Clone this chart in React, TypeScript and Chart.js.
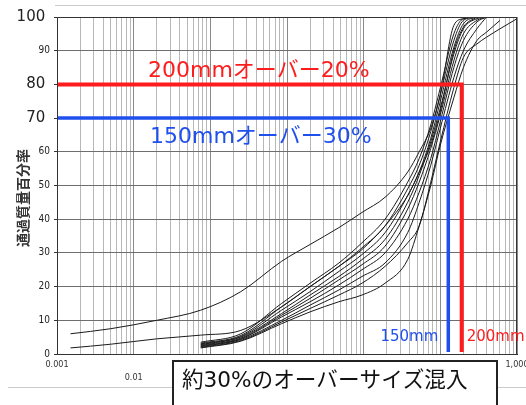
import React, { useEffect, useRef } from 'react';
import { Chart, registerables } from 'chart.js';

Chart.register(...registerables);

// ---- data ----
const SIZES_MM = [0.0015, 0.005, 0.02, 0.075, 0.25, 0.85, 2, 4.75, 9.5, 19, 37.5, 53, 75, 100, 150, 200, 300, 400, 600, 1000];

const CURVE_A = [6, 7.5, 10, 13, 18.5, 27.5, 32.5, 37.5, 42, 46.5, 54, 60, 67, 77, 97.5, 99.5, 100, null, null, null];
const CURVE_B = [1.8, 2.9, 4.5, 5.6, 7, 14, 20, 26, 31, 38, 47, 54, 62, 72, 90, 97, 100, null, null, null];
const CURVE_C1 = [null, null, null, 3.5, 6, 15, 21, 27, 33, 40, 51, 58, 68, 79, 95, 99.5, 100, null, null, null];
const CURVE_C2 = [null, null, null, 3.2, 5.5, 14, 20, 26, 31.5, 38, 49, 56, 66, 77, 93, 99, 100, null, null, null];
const CURVE_C3 = [null, null, null, 3.0, 5.2, 13, 18.5, 24.5, 29.5, 36, 47, 54, 64, 75, 91, 98, 100, null, null, null];
const CURVE_C4 = [null, null, null, 2.8, 5.0, 12, 17.5, 23, 28, 34, 45, 53, 63, 73, 89, 96.5, 99.5, 100, null, null];
const CURVE_C5 = [null, null, null, 2.6, 4.7, 11.5, 16.5, 22, 26.5, 32, 43, 51, 61, 71, 87, 95, 99, 100, null, null];
const CURVE_C6 = [null, null, null, 2.4, 4.5, 11, 15.5, 20.5, 25, 30, 40, 48, 58, 69, 85, 93, 98.5, 100, null, null];
const CURVE_C7 = [null, null, null, 2.2, 4.3, 10, 14.5, 19, 23, 27, 36, 45, 56, 67, 82, 90, 96.5, 100, null, null];
const CURVE_C8 = [null, null, null, 2.0, 4.0, 9.5, 13.5, 17.5, 21, 26, 33, 38, 51, 63, 79, 88, 92, 94, 96.5, 99.5];
const CURVE_C9 = [null, null, null, 1.8, 3.8, 9, 12.5, 15.5, 17.5, 21, 28, 38, 50, 62, 76, 85, 93, 95.5, 99, null];

const CURVES = [CURVE_A, CURVE_B, CURVE_C1, CURVE_C2, CURVE_C3, CURVE_C4, CURVE_C5, CURVE_C6, CURVE_C7, CURVE_C8, CURVE_C9];

const RED_SIZE_MM = 190;
const RED_PCT = 80;
const BLUE_SIZE_MM = 127;
const BLUE_PCT = 70;

const Y_TICKS = [0, 10, 20, 30, 40, 50, 60, 70, 80, 90, 100];
const Y_BIG_TICKS = [100, 80, 70];
const X_LABEL_VALUES = [0.001, 0.01, 0.1, 1, 10, 100, 1000];
const X_LABEL_TEXTS = ['0.001', '0.01', '0.1', '1', '10', '100', '1,000'];

const Y_TITLE = '通過質量百分率';
const RED_TEXT = '200mmオーバー20%';
const BLUE_TEXT = '150mmオーバー30%';
const RED_SHORT = '200mm';
const BLUE_SHORT = '150mm';
const BOX_TEXT = '約30%のオーバーサイズ混入';

const RED = '#ff1c1c';
const BLUE = '#1f50ee';
const CJK = "'Noto Sans CJK JP'";
const ROUND = "'DejaVu Sans', 'Noto Sans CJK JP', sans-serif";
const NARROW = "'Liberation Sans Narrow', 'DejaVu Sans Condensed', 'Liberation Sans', sans-serif";

function buildXTicks() {
  const ticks: { value: number }[] = [];
  for (let e = -3; e <= 2; e++) {
    for (let k = 1; k <= 9; k++) ticks.push({ value: +(k * Math.pow(10, e)).toPrecision(6) });
  }
  ticks.push({ value: 1000 });
  return ticks;
}

function isDecade(v: number) {
  const l = Math.log10(v);
  return Math.abs(l - Math.round(l)) < 1e-6;
}

const overlayPlugin = {
  id: 'overlay',
  beforeDraw(chart: any) {
    const { ctx, width, height } = chart;
    ctx.save();
    ctx.fillStyle = '#ffffff';
    ctx.fillRect(0, 0, width, height);
    ctx.strokeStyle = '#cccccc';
    ctx.lineWidth = 1;
    ctx.beginPath();
    ctx.moveTo(55, 5.5);
    ctx.lineTo(width, 5.5);
    ctx.moveTo(8, 387.5);
    ctx.lineTo(width, 387.5);
    ctx.stroke();
    ctx.restore();
  },
  afterDatasetsDraw(chart: any) {
    const { ctx, chartArea } = chart;
    const xs = chart.scales.x;
    const ys = chart.scales.y;
    ctx.save();
    // frame
    ctx.strokeStyle = '#333';
    ctx.lineWidth = 1;
    ctx.strokeRect(chartArea.left + 0.5, chartArea.top + 0.5, chartArea.right - chartArea.left - 1, chartArea.bottom - chartArea.top);
    // annotation texts
    ctx.textBaseline = 'middle';
    ctx.textAlign = 'left';
    ctx.font = `22px ${ROUND}`;
    ctx.fillStyle = RED;
    ctx.fillText(RED_TEXT, 148, ys.getPixelForValue(84));
    ctx.fillStyle = BLUE;
    ctx.fillText(BLUE_TEXT, 150, ys.getPixelForValue(64.4));
    ctx.font = `15px ${ROUND}`;
    ctx.textAlign = 'right';
    ctx.fillStyle = BLUE;
    ctx.fillText(BLUE_SHORT, xs.getPixelForValue(BLUE_SIZE_MM) - 10, ys.getPixelForValue(5));
    ctx.textAlign = 'left';
    ctx.fillStyle = RED;
    ctx.fillText(RED_SHORT, xs.getPixelForValue(RED_SIZE_MM) + 5, ys.getPixelForValue(5));
    ctx.restore();
  },
  afterDraw(chart: any) {
    const { ctx } = chart;
    ctx.save();
    // y title
    ctx.translate(23, 198);
    ctx.rotate(-Math.PI / 2);
    ctx.font = `bold 14px ${CJK}`;
    ctx.fillStyle = '#333';
    ctx.textAlign = 'center';
    ctx.textBaseline = 'middle';
    ctx.fillText(Y_TITLE, 0, 0);
    ctx.restore();
    // bottom box
    ctx.save();
    ctx.fillStyle = '#ffffff';
    ctx.fillRect(173, 361, 324, 60);
    ctx.strokeStyle = '#222';
    ctx.lineWidth = 2;
    ctx.strokeRect(173, 361, 324, 60);
    ctx.font = `21.6px ${ROUND}`;
    ctx.fillStyle = '#111';
    ctx.textAlign = 'left';
    ctx.textBaseline = 'middle';
    ctx.fillText(BOX_TEXT, 182, 381);
    ctx.restore();
  },
};

export default function App() {
  const ref = useRef<HTMLCanvasElement | null>(null);

  useEffect(() => {
    if (!ref.current) return;
    const curveSets = CURVES.map((vals) => ({
      data: SIZES_MM.map((x, i) => ({ x, y: vals[i] })).filter((p) => p.y !== null),
      borderColor: '#1b1b1b',
      borderWidth: 1,
      pointRadius: 0,
      cubicInterpolationMode: 'monotone' as const,
      order: 2,
    }));
    const chart = new Chart(ref.current, {
      type: 'line',
      data: {
        datasets: [
          {
            data: [
              { x: 0.001, y: RED_PCT },
              { x: RED_SIZE_MM, y: RED_PCT },
              { x: RED_SIZE_MM, y: 0.6 },
            ],
            borderColor: RED,
            borderWidth: 4,
            pointRadius: 0,
            borderJoinStyle: 'miter',
            order: 0,
          },
          {
            data: [
              { x: 0.001, y: BLUE_PCT },
              { x: BLUE_SIZE_MM, y: BLUE_PCT },
              { x: BLUE_SIZE_MM, y: 0.6 },
            ],
            borderColor: BLUE,
            borderWidth: 3.5,
            pointRadius: 0,
            borderJoinStyle: 'miter',
            order: 1,
          },
          ...curveSets,
        ] as any,
      },
      options: {
        animation: false,
        responsive: false,
        maintainAspectRatio: false,
        devicePixelRatio: 1,
        layout: { padding: { top: 17, right: 9, left: 0, bottom: 0 } },
        plugins: {
          legend: { display: false },
          tooltip: { enabled: false },
          title: { display: false },
        },
        scales: {
          x: {
            type: 'logarithmic',
            min: 0.001,
            max: 1000,
            afterBuildTicks: (scale: any) => {
              scale.ticks = buildXTicks();
            },
            afterFit: (scale: any) => {
              scale.height = 51;
              scale.paddingLeft = 0;
              scale.paddingRight = 0;
            },
            grid: {
              color: (c: any) => (c.tick && isDecade(c.tick.value) ? '#8a8a8a' : '#b8b8b8'),
              lineWidth: 1,
              drawTicks: false,
            },
            border: { display: true, color: '#222', width: 1 },
            ticks: {
              autoSkip: false,
              maxRotation: 0,
              minRotation: 0,
              padding: 5,
              color: '#333',
              font: { family: NARROW, size: 9, lineHeight: 1.35 },
              callback: (value: any) => {
                const v = Number(value);
                const i = X_LABEL_VALUES.findIndex((t) => Math.abs(Math.log10(t) - Math.log10(v)) < 1e-6);
                if (i < 0) return '';
                return i % 2 === 0 ? X_LABEL_TEXTS[i] : ['', X_LABEL_TEXTS[i]];
              },
            },
          },
          y: {
            type: 'linear',
            min: 0,
            max: 100,
            afterBuildTicks: (scale: any) => {
              scale.ticks = Y_TICKS.map((value) => ({ value }));
            },
            afterFit: (scale: any) => {
              scale.width = 57;
              scale.paddingTop = 0;
              scale.paddingBottom = 0;
            },
            grid: { color: '#6e6e6e', lineWidth: 1, tickColor: '#333', tickLength: 3 },
            border: { display: true, color: '#222', width: 1 },
            ticks: {
              padding: 4,
              color: '#222',
              font: (c: any) =>
                c.tick && Y_BIG_TICKS.includes(c.tick.value)
                  ? { family: ROUND, size: 15 }
                  : { family: NARROW, size: 10 },
              callback: (value: any) => (Y_BIG_TICKS.includes(Number(value)) ? `${value} ` : `${value}`),
            },
          },
        },
      } as any,
      plugins: [overlayPlugin],
    });
    return () => chart.destroy();
  }, []);

  return (
    <canvas
      ref={ref}
      width={526}
      height={405}
      style={{ position: 'fixed', left: 0, top: 0, width: 526, height: 405 }}
    />
  );
}
